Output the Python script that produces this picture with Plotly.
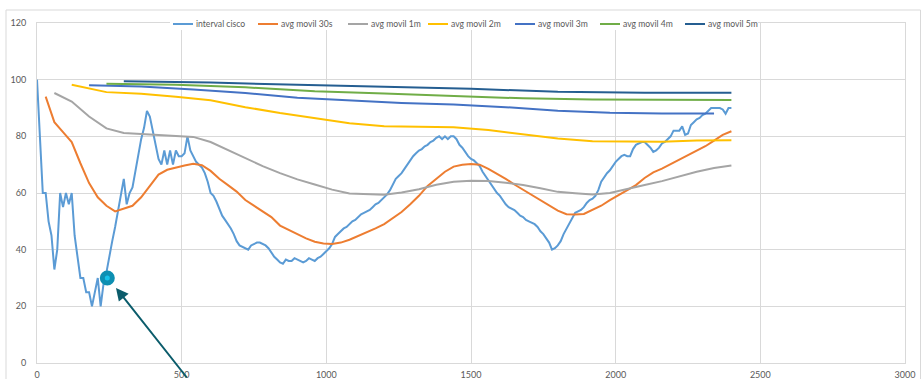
import plotly.graph_objects as go

# ---- data ---------------------------------------------------------------
# raw interval samples, one every 10 s from 0 to 2400 s
interval_t = list(range(0, 2401, 10))
interval_cisco = [
    100, 80, 60, 60, 50, 45, 33, 40, 60, 55,
    60, 56, 60, 45, 38, 30, 30, 25, 25, 20,
    25, 30, 20, 28, 32, 38, 43, 48, 54, 60,
    65, 56, 60, 62, 68, 74, 79, 83, 89, 87,
    82, 77, 72, 70, 75, 70, 75, 70, 75, 73,
    73, 74, 80, 75, 73, 71, 70, 69, 67, 64,
    60, 59, 57, 54.5, 52, 50.5, 49, 47.5, 45.5, 43,
    41.5, 41, 40.5, 40, 41.5, 42, 42.5, 42.5, 42, 41.5,
    40.5, 39, 37.5, 36.5, 35.5, 35, 36.5, 36, 36, 37,
    36.5, 36, 35.5, 36, 37, 36.5, 36, 37, 37.5, 38.5,
    39.5, 40.5, 42, 44.5, 45.5, 46.5, 47.5, 48, 49, 50,
    50.5, 51.5, 52.5, 53, 53.5, 54, 55, 56, 56.5, 57.5,
    58.5, 59.5, 61, 63, 65, 66, 67, 68.5, 70, 71.5,
    73, 74, 75, 75.5, 76.5, 77, 78, 78.5, 79.5, 80,
    79, 80, 79, 80, 80, 79, 77, 76, 74.5, 73,
    72, 71.5, 70.5, 69.5, 67.5, 66, 64.5, 63, 61.5, 60,
    59, 57.5, 56, 55, 54.5, 54, 53, 52, 51.5, 50.5,
    50, 49.5, 49, 48, 46.5, 45.5, 44, 42.5, 40, 40.5,
    41.5, 43, 45.5, 47.5, 49, 51.5, 53, 53.5, 54, 55,
    56.5, 57.5, 58, 59, 61, 64, 65.5, 67, 68, 69.5,
    71, 72, 73, 73.5, 73, 73, 75.5, 77, 77.5, 78,
    78, 77, 76, 74.5, 75, 76, 77.5, 78, 79, 80,
    82, 82, 82, 83.5, 80.5, 81, 84, 85, 86, 86.5,
    87.5, 88, 89, 90, 90, 90, 90, 89.5, 88, 90,
    90,
]

# 30 s moving average
avg30_t = list(range(30, 2401, 30))
avg30 = [
    94, 85, 81.5, 78, 70.5, 63.5, 58.5, 55.5, 53.5, 54.5,
    55.5, 58.5, 62.5, 66.5, 68.2, 69, 69.7, 70.3, 69.8, 67.8,
    65, 62.8, 60.5, 57.5, 55.5, 53.5, 51.5, 48.5, 47, 45.5,
    44, 42.8, 42.2, 42, 42.5, 43.5, 44.8, 46, 47.5, 49,
    51, 53.3, 56, 59, 62.5, 65, 67.5, 69.3, 70, 70.2,
    70, 68.5, 66.8, 65, 63, 61.2, 59.3, 57.5, 55.8, 53.8,
    52.5, 52.4, 52.6, 54, 55.5, 57.5, 59.2, 60.8, 62.8, 65.3,
    67.3, 68.6, 70.2, 71.7, 73.2, 74.7, 76.5, 78.5, 80.5, 81.8,
]

# 1 min moving average
avg1m_t = list(range(60, 2401, 60))
avg1m = [
    95.3, 92.3, 87, 82.8, 81.2, 80.8, 80.5, 80.2, 79.8, 78,
    75.2, 72.3, 69.5, 67, 64.8, 63, 61.2, 59.8, 59.5, 59.4,
    60.2, 61.3, 62.9, 64, 64.3, 64.2, 63.6, 62.8, 61.7, 60.4,
    59.9, 59.5, 60, 61.3, 62.8, 64.2, 65.8, 67.5, 68.8, 69.7,
]

# 2 min moving average
avg2m_t = list(range(120, 2401, 120))
avg2m = [
    98.2, 95.6, 95, 94, 92.7, 90.3, 88.2, 86.3, 84.6, 83.6,
    83.4, 83.2, 82.2, 80.8, 79.2, 78.3, 78.1, 78.1, 78.5, 78.6,
]

# 3 min moving average
avg3m_t = list(range(180, 2341, 180))
avg3m = [98, 97.6, 96.5, 95.3, 93.6, 92.6, 91.8, 91.2, 90.3, 89, 88.3, 88.1, 88.1]

# 4 min moving average
avg4m_t = list(range(240, 2401, 240))
avg4m = [98.6, 98.2, 97.3, 95.9, 95.1, 94.3, 93.4, 93, 92.9, 92.8]

# 5 min moving average
avg5m_t = list(range(300, 2401, 300))
avg5m = [99.4, 99, 98.2, 97.4, 96.8, 95.7, 95.4, 95.4]

series_names = ["interval cisco", "avg movil 30s", "avg movil 1m", "avg movil 2m",
                "avg movil 3m", "avg movil 4m", "avg movil 5m"]
series_colors = ["#5B9BD5", "#ED7D31", "#A5A5A5", "#FFC000",
                 "#4472C4", "#70AD47", "#255E91"]

# highlighted sample on the interval curve
highlight_t = [243]
highlight_v = [30]

x_ticks = [0, 500, 1000, 1500, 2000, 2500, 3000]
y_ticks = [0, 20, 40, 60, 80, 100, 120]

# ---- figure -------------------------------------------------------------
W, H = 922, 379
ML, MR, MT, MB = 37, 17, 23, 16
PW, PH = W - ML - MR, H - MT - MB


def px(xp):
    return (xp - ML) / PW


def py(yp):
    return (H - MB - yp) / PH


fig = go.Figure()

all_t = [interval_t, avg30_t, avg1m_t, avg2m_t, avg3m_t, avg4m_t, avg5m_t]
all_v = [interval_cisco, avg30, avg1m, avg2m, avg3m, avg4m, avg5m]

for i, (t, v) in enumerate(zip(all_t, all_v)):
    fig.add_trace(go.Scatter(
        x=t, y=v, mode="lines", name=series_names[i],
        line=dict(color=series_colors[i], width=2),
        showlegend=False,
    ))

fig.add_trace(go.Scatter(
    x=highlight_t, y=highlight_v, mode="markers", showlegend=False,
    marker=dict(size=10, color="#16C2EA", line=dict(color="#0D8FB2", width=5)),
))

shapes = []
annotations = []

# outer chart frame
shapes.append(dict(type="rect", xref="paper", yref="paper",
                   x0=px(6), x1=px(920.5), y0=py(400), y1=py(10),
                   line=dict(color="#D9D9D9", width=1), layer="below"))

# legend row along the top
leg_y = 24
leg_starts = [173, 258, 348, 428, 515, 600, 685]
shapes.append(dict(type="rect", xref="paper", yref="paper",
                   x0=px(170), x1=px(758), y0=py(30), y1=py(18),
                   fillcolor="white", line=dict(width=0), layer="above"))
for i, x0 in enumerate(leg_starts):
    shapes.append(dict(type="line", xref="paper", yref="paper",
                       x0=px(x0), x1=px(x0 + 20), y0=py(leg_y), y1=py(leg_y),
                       line=dict(color=series_colors[i], width=2), layer="above"))
    annotations.append(dict(xref="paper", yref="paper", x=px(x0 + 21), y=py(leg_y),
                            xanchor="left", yanchor="middle", showarrow=False,
                            text=series_names[i],
                            font=dict(size=8.6, color="#595959")))

# pointer arrow to the highlighted sample
annotations.append(dict(x=273, y=26.5, xref="x", yref="y", ax=72, ay=98,
                        axref="pixel", ayref="pixel", text="", showarrow=True,
                        arrowhead=2, arrowsize=1.25, arrowwidth=2,
                        arrowcolor="#0B5C6B"))

fig.update_layout(
    width=W, height=H,
    margin=dict(l=ML, r=MR, t=MT, b=MB, autoexpand=False),
    paper_bgcolor="white", plot_bgcolor="white",
    font=dict(family="Lato, Open Sans, sans-serif", size=9, color="#595959"),
    shapes=shapes, annotations=annotations,
    showlegend=False,
)
fig.update_xaxes(range=[0, 3000], tickvals=x_ticks, ticks="", automargin=False,
                 showgrid=True, gridcolor="#D9D9D9", gridwidth=1,
                 showline=True, mirror=True, linecolor="#D9D9D9", linewidth=1,
                 zeroline=False, ticklabelstandoff=3,
                 tickfont=dict(size=9, color="#595959"))
fig.update_yaxes(range=[0, 120], tickvals=y_ticks, ticks="", automargin=False,
                 showgrid=True, gridcolor="#D9D9D9", gridwidth=1,
                 showline=True, mirror=True, linecolor="#D9D9D9", linewidth=1,
                 zeroline=False, ticklabelstandoff=8,
                 tickfont=dict(size=9, color="#595959"))

fig.write_html("out.html")
